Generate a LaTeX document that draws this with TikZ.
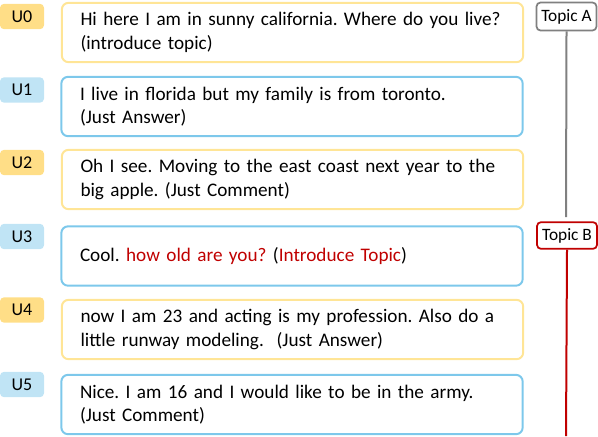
\documentclass[tikz,border=0pt]{standalone}
\usepackage{fontspec}
\setmainfont{Carlito}
\definecolor{uyel}{RGB}{255,229,150}
\definecolor{uyelfill}{RGB}{255,222,135}
\definecolor{ublue}{RGB}{125,200,235}
\definecolor{ubluefill}{RGB}{192,228,245}
\definecolor{tred}{RGB}{192,0,0}
\definecolor{tgray}{RGB}{128,128,128}
\tikzset{
  utt/.style={draw,line width=1.5pt,rounded corners=5pt,align=left,text width=318pt,
    inner xsep=14pt,minimum height=44.5pt,font=\fontsize{14.4}{17.5}\selectfont},
  uid/.style={rounded corners=3pt,minimum width=33pt,minimum height=19pt,inner sep=0pt,
    font=\fontsize{13.5}{15}\selectfont},
  topic/.style={draw,line width=1.3pt,rounded corners=3pt,minimum width=45pt,inner sep=1.5pt,
    font=\fontsize{13}{14}\selectfont},
}
\frenchspacing
\begin{document}
\begin{tikzpicture}[x=0.75pt,y=-0.75pt]
	\useasboundingbox (0,0) rectangle (598,436);
	% speaker turns
	\node[uid,fill=uyelfill] (u0) at (22,16.5) {U0};
	\node[uid,fill=ubluefill] (u1) at (22,90) {U1};
	\node[uid,fill=uyelfill] (u2) at (22,162.5) {U2};
	\node[uid,fill=ubluefill] (u3) at (22,236.5) {U3};
	\node[uid,fill=uyelfill] (u4) at (22,310) {U4};
	\node[uid,fill=ubluefill] (u5) at (22,384.5) {U5};
	% utterances
	\node[utt,draw=uyel] (s0) at (292.5,32.5) {Hi here I am in sunny california. Where do you live?\\(introduce topic)};
	\node[utt,draw=ublue] (s1) at (292,106.5) {I live in florida but my family is from toronto.\\(Just Answer)};
	\node[utt,draw=uyel] (s2) at (292.5,179.5) {Oh I see. Moving to the east coast next year to the\\big apple. (Just Comment)};
	\node[utt,draw=ublue] (s3) at (292,256) {Cool. \textcolor{tred}{how old are you?} (\textcolor{tred}{Introduce Topic})};
	\node[utt,draw=uyel] (s4) at (292.5,329.5) {now I am 23 and acting is my profession. Also do a\\little runway modeling.\ \ (Just Answer)};
	\node[utt,draw=ublue] (s5) at (292,404.5) {Nice. I am 16 and I would like to be in the army.\\(Just Comment)};
	% topics
	\node[topic,draw=tgray,minimum height=21pt] (ta) at (566.5,16.5) {Topic A};
	\node[topic,draw=tred,minimum height=20pt] (tb) at (567,235.5) {Topic B};
	\coordinate (ea) at (566,217);
	\coordinate (eb) at (566,436);
	\draw[tgray,line width=1.5pt] (ta.south) -- (ea);
	\draw[tred,line width=1.5pt] (tb.south) -- (eb);
\end{tikzpicture}
\end{document}
